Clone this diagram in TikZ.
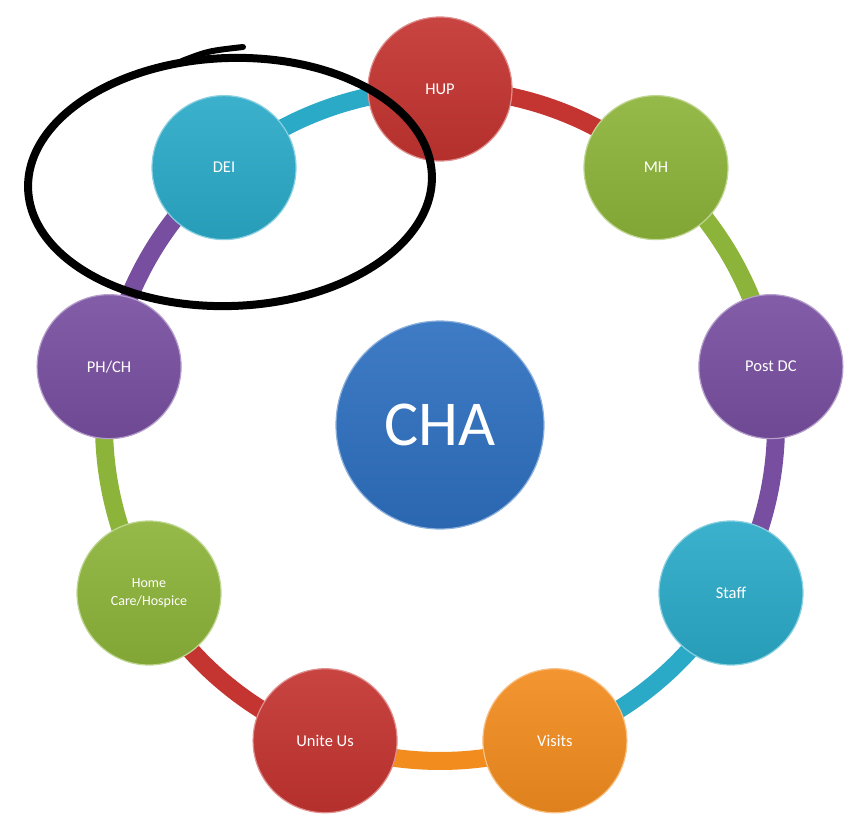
\documentclass[tikz,border=0pt]{standalone}
\usepackage{fontspec}
\setmainfont{Carlito}
\usepackage{tikz}
\usetikzlibrary{backgrounds}

\definecolor{chared}{RGB}{196,52,48}
\definecolor{chagreen}{RGB}{141,180,58}
\definecolor{chapurple}{RGB}{120,79,160}
\definecolor{chateal}{RGB}{43,170,200}
\definecolor{chaorange}{RGB}{242,140,30}
\definecolor{chablue}{RGB}{46,112,192}

\tikzset{
  ball/.style={circle,inner sep=0pt,minimum size=144pt,text=white,
    top color=#1!92!white,bottom color=#1!92!black,draw=#1!55!white,line width=1.2pt,
    align=center},
  ring/.style={draw=#1,line width=18pt,bend left=20,looseness=0.88}
}

\begin{document}
\begin{tikzpicture}[x=1pt,y=1pt]
  \useasboundingbox (-440,-397) rectangle (424,425);
  \node[ball=chablue,minimum size=208pt,font=\fontsize{64}{70}\selectfont] (cha) at (0,0) {CHA};
  \foreach \name/\lab/\col/\fs [count=\i] in {hup/HUP/chared/16.5, mh/MH/chagreen/16.5,
      postdc/Post DC/chapurple/16.5, staff/Staff/chateal/16.5, visits/Visits/chaorange/16.5,
      unite/Unite Us/chared/16.5, home/{Home\\Care/Hospice}/chagreen/14,
      phch/{PH/CH}/chapurple/16.5, dei/DEI/chateal/16.5}
    \node[ball=\col,font=\fontsize{\fs}{18}\selectfont] (\name) at ({130-40*\i}:336) {\lab};
  \begin{scope}[on background layer]
    \draw[ring=chared] (hup.center) to (mh.center);
    \draw[ring=chagreen] (mh.center) to (postdc.center);
    \draw[ring=chapurple] (postdc.center) to (staff.center);
    \draw[ring=chateal] (staff.center) to (visits.center);
    \draw[ring=chaorange] (visits.center) to (unite.center);
    \draw[ring=chared] (unite.center) to (home.center);
    \draw[ring=chagreen] (home.center) to (phch.center);
    \draw[ring=chapurple] (phch.center) to (dei.center);
    \draw[ring=chateal] (dei.center) to (hup.center);
  \end{scope}
  % hand drawn mark round DEI
  \draw[line width=8pt,line cap=round,rotate around={2:(-210,243)}] (-210,243) ellipse[x radius=202,y radius=124];
  \draw[line width=6pt,line cap=round] (-258,364) .. controls (-232,374) .. (-197,378);
\end{tikzpicture}
\end{document}
